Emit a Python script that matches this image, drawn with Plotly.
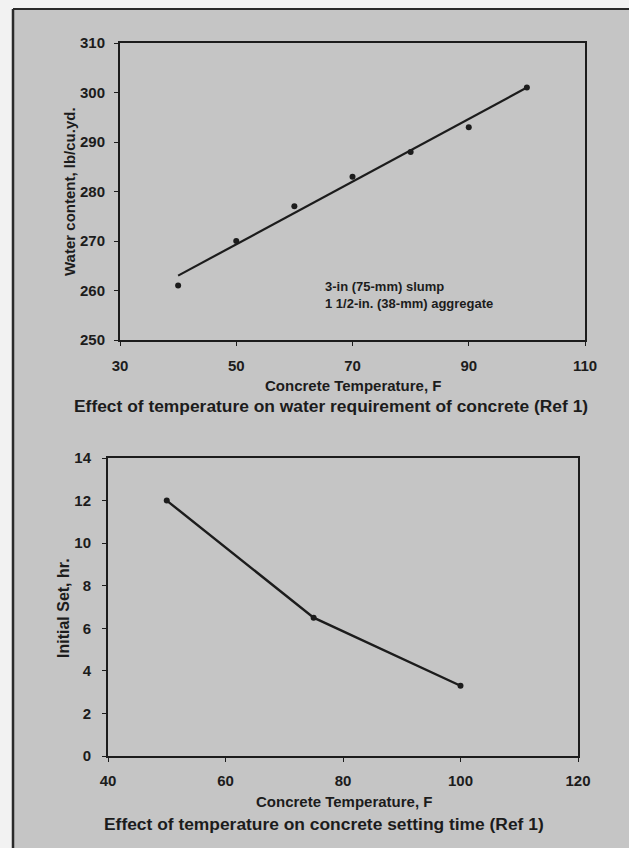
import plotly.graph_objects as go

W, H = 629, 848

# ---- data: top chart (water requirement) ----
water_temp = [40, 50, 60, 70, 80, 90, 100]
water_content = [261, 270, 277, 283, 288, 293, 301]
fit_temp = [40, 100]
fit_water = [263, 301]
water_xticks = [30, 50, 70, 90, 110]
water_yticks = [250, 260, 270, 280, 290, 300, 310]

# ---- data: bottom chart (setting time) ----
set_temp = [50, 75, 100]
set_hours = [12, 6.5, 3.3]
set_xticks = [40, 60, 80, 100, 120]
set_yticks = [0, 2, 4, 6, 8, 10, 12, 14]

BG = "#c5c5c5"
INK = "#1c1c1c"
FONT = "Liberation Sans, Arial, sans-serif"


def px_x(p):
    return p / W


def px_y(p):
    return 1 - p / H


fig = go.Figure()

fig.add_trace(go.Scatter(x=fit_temp, y=fit_water, mode="lines",
                         line=dict(color=INK, width=2.2),
                         xaxis="x", yaxis="y", showlegend=False))
fig.add_trace(go.Scatter(x=water_temp, y=water_content, mode="markers",
                         marker=dict(color=INK, size=6),
                         xaxis="x", yaxis="y", showlegend=False))
fig.add_trace(go.Scatter(x=set_temp, y=set_hours, mode="lines+markers",
                         line=dict(color=INK, width=2.4),
                         marker=dict(color=INK, size=6),
                         xaxis="x2", yaxis="y2", showlegend=False))

axis_common = dict(showgrid=False, zeroline=False, showline=True, linecolor=INK,
                   linewidth=2, mirror=True, ticks="outside", ticklen=4,
                   tickcolor=INK, tickwidth=1, automargin=False,
                   tickfont=dict(family=FONT, size=15, color=INK, weight="bold"))

fig.update_layout(
    width=W, height=H,
    margin=dict(l=0, r=0, t=0, b=0, autoexpand=False),
    paper_bgcolor="#f2f2f2",
    plot_bgcolor=BG,
    xaxis=dict(domain=[px_x(120), px_x(585)], range=[30, 110],
               tickvals=water_xticks, anchor="y", ticklabelstandoff=7,
               **axis_common),
    yaxis=dict(domain=[px_y(340), px_y(43)], range=[250, 310],
               tickvals=water_yticks, anchor="x", ticklabelstandoff=6,
               **axis_common),
    xaxis2=dict(domain=[px_x(108), px_x(578)], range=[40, 120],
                tickvals=set_xticks, anchor="y2", ticklabelstandoff=6,
                **axis_common),
    yaxis2=dict(domain=[px_y(756), px_y(458)], range=[0, 14],
                tickvals=set_yticks, anchor="x2", ticklabelstandoff=8,
                **axis_common),
    shapes=[
        dict(type="rect", xref="paper", yref="paper",
             x0=px_x(13), x1=1.01, y0=-0.01, y1=px_y(9),
             fillcolor=BG, line=dict(width=0), layer="below"),
        dict(type="line", xref="paper", yref="paper",
             x0=px_x(13), x1=px_x(13), y0=-0.01, y1=px_y(9),
             line=dict(color="#2a2a2a", width=2.5)),
        dict(type="line", xref="paper", yref="paper",
             x0=px_x(13), x1=1.01, y0=px_y(9), y1=px_y(9),
             line=dict(color="#2a2a2a", width=2)),
    ],
)


def note(text, x, y, size, angle=0, xanchor="center"):
    fig.add_annotation(text=text, xref="paper", yref="paper",
                       x=px_x(x), y=px_y(y), showarrow=False,
                       xanchor=xanchor, yanchor="middle", textangle=angle,
                       font=dict(family=FONT, size=size, color=INK, weight="bold"))


# top chart texts
note("Water content, lb/cu.yd.", 70, 192, 15, angle=-90)
note("Concrete Temperature, F", 353, 385, 15)
note("Effect of temperature on water requirement of concrete (Ref 1)", 331, 406, 17.4)
fig.add_annotation(text="3-in (75-mm) slump<br>1 1/2-in. (38-mm) aggregate",
                   xref="paper", yref="paper", x=px_x(323), y=px_y(295),
                   showarrow=False, xanchor="left", yanchor="middle", align="left",
                   font=dict(family=FONT, size=13, color=INK, weight="bold"))

# bottom chart texts
note("Initial Set, hr.", 63, 608, 16, angle=-90)
note("Concrete Temperature, F", 344, 801, 15)
note("Effect of temperature on concrete setting time (Ref 1)", 324, 824, 17.4)

fig.write_html("out.html", config={"displayModeBar": False},
               post_script="document.body.style.margin='0px';")
